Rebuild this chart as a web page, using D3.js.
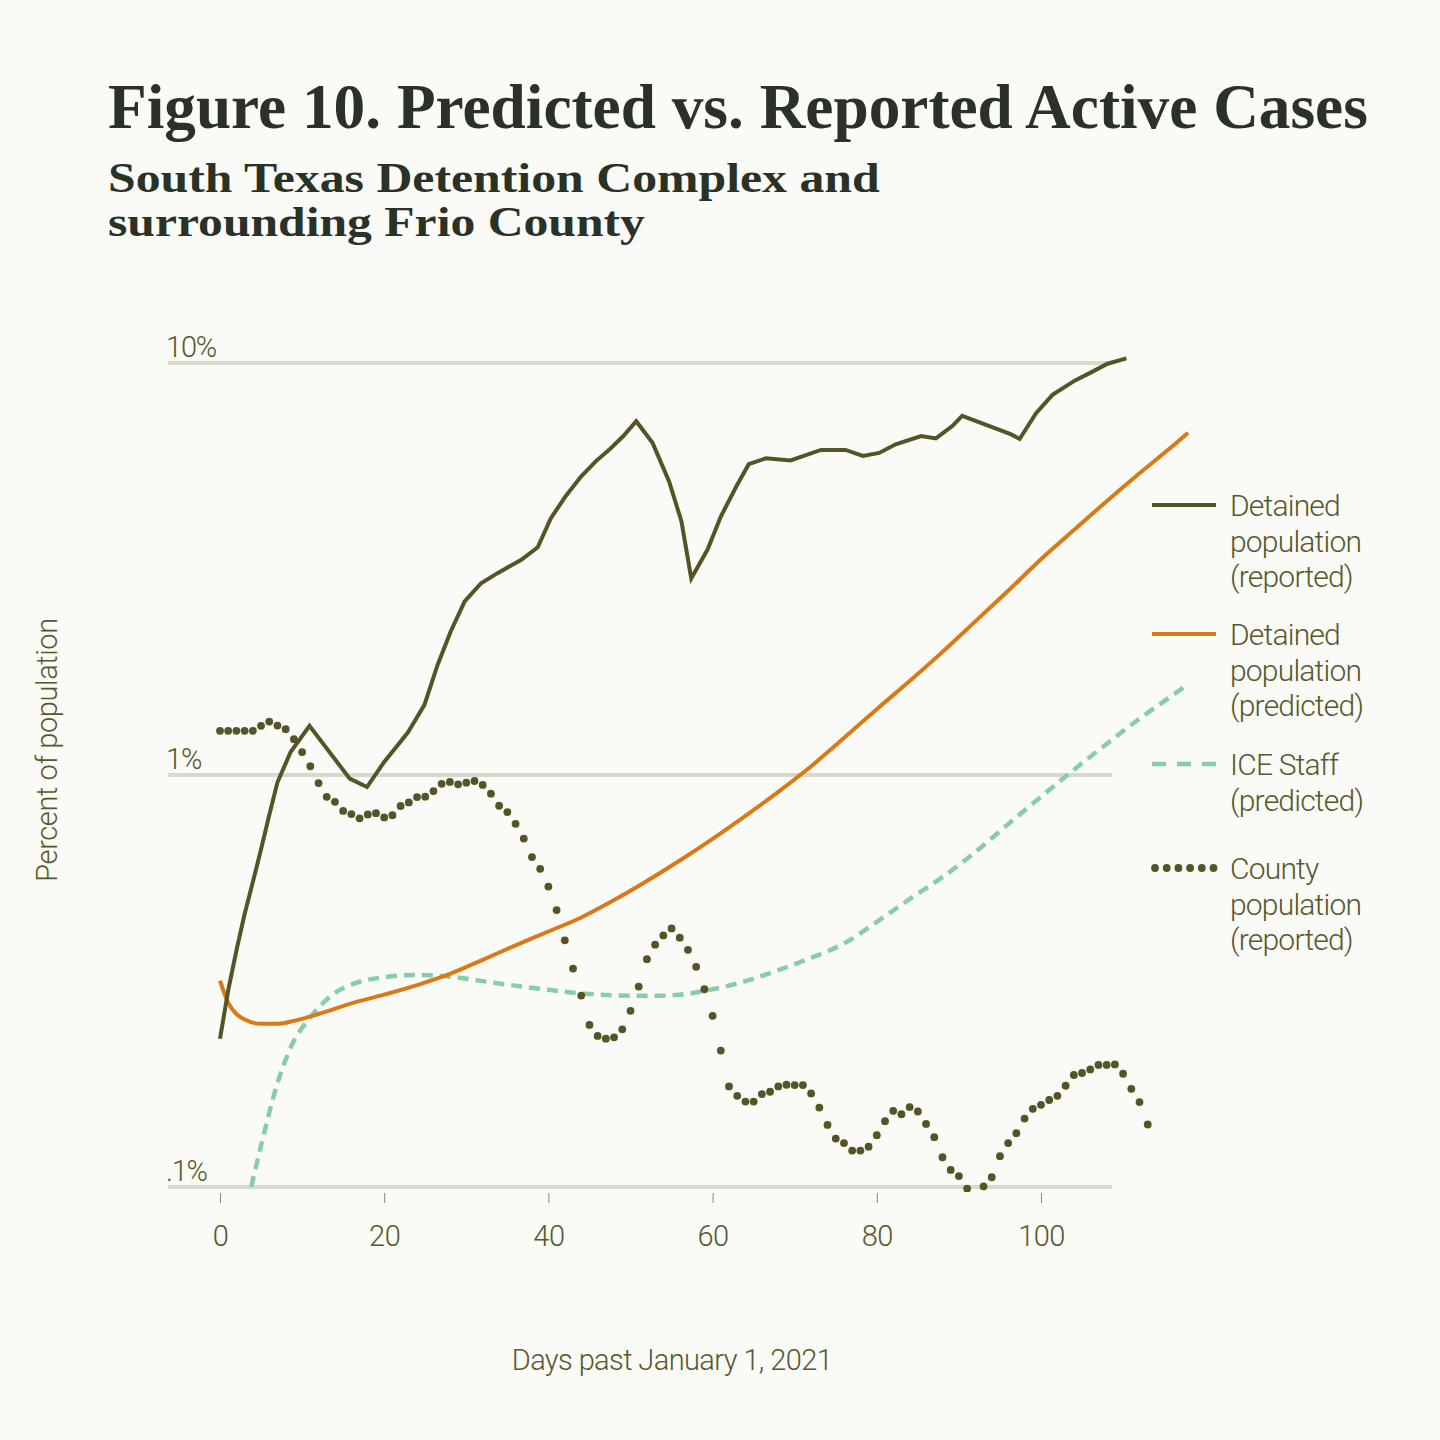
<!DOCTYPE html>
<html>
<head>
<meta charset="utf-8">
<script src="https://cdn.jsdelivr.net/npm/d3@7"></script>
<style>
  html, body { margin: 0; padding: 0; background: #fafaf6; }
  svg { display: block; }
</style>
</head>
<body>
<svg id="chart" width="1440" height="1440"></svg>
<script>
// ---------------- DATA ----------------
const titleText = "Figure 10. Predicted vs. Reported Active Cases";
const subtitleLines = ["South Texas Detention Complex and", "surrounding Frio County"];
const xTickValues = [0, 20, 40, 60, 80, 100];
const yTickValues = [10, 1, 0.1];
const yTickLabels = ["10%", "1%", ".1%"];
const xAxisTitle = "Days past January 1, 2021";
const yAxisTitle = "Percent of population";

// Detained population (reported) — day, percent
const detainedReportedDays = [0, 1, 2, 3, 4, 5, 6, 7, 8.6, 10.9, 15.8, 17.9, 20, 22.9, 24.9, 26.5, 28.1, 29.8, 31.8, 33.8, 36.7, 38.7, 40.3, 42.1, 44, 45.8, 47.6, 49.1, 50.7, 52.7, 54.7, 56.2, 57.4, 59.4, 61, 62.9, 64.4, 66.5, 69.5, 73.2, 76.2, 78.3, 80.3, 82.3, 85.4, 87.2, 89.2, 90.4, 96.3, 97.4, 99.4, 101.4, 104.1, 106.1, 108.1, 110.4];
const detainedReportedValues = [0.229, 0.30, 0.375, 0.46, 0.55, 0.66, 0.80, 0.96, 1.137, 1.316, 0.98, 0.935, 1.076, 1.27, 1.48, 1.85, 2.23, 2.64, 2.92, 3.09, 3.33, 3.57, 4.2, 4.75, 5.31, 5.78, 6.21, 6.64, 7.22, 6.39, 5.16, 4.13, 3.0, 3.53, 4.24, 5.02, 5.68, 5.87, 5.80, 6.15, 6.15, 5.95, 6.05, 6.35, 6.65, 6.56, 7.03, 7.44, 6.72, 6.54, 7.55, 8.37, 9.06, 9.49, 9.96, 10.26];

// Detained population (predicted)
const detainedPredictedDays = [0, 1, 2, 3, 5, 7, 9, 12, 16, 20, 24, 28, 32, 36, 40, 44, 48, 52, 56, 60, 64, 68, 72, 76, 80, 84, 88, 92, 96, 100, 104, 108, 112, 116, 117.9];
const detainedPredictedValues = [0.317, 0.28, 0.263, 0.255, 0.249, 0.249, 0.253, 0.263, 0.279, 0.293, 0.309, 0.329, 0.356, 0.386, 0.417, 0.451, 0.497, 0.553, 0.62, 0.70, 0.796, 0.91, 1.05, 1.23, 1.445, 1.69, 1.99, 2.36, 2.80, 3.34, 3.93, 4.62, 5.40, 6.28, 6.77];

// ICE Staff (predicted)
const iceStaffDays = [3.8, 5, 6.9, 8.7, 11, 13.8, 16.6, 20, 24, 28, 32, 36, 40, 44, 48, 52, 56, 60, 64, 68, 72, 76, 80, 84, 88, 92, 96, 100, 104, 108, 112, 116, 117.9];
const iceStaffValues = [0.1, 0.126, 0.176, 0.22, 0.258, 0.294, 0.313, 0.323, 0.327, 0.324, 0.316, 0.308, 0.301, 0.295, 0.292, 0.291, 0.293, 0.302, 0.316, 0.336, 0.36, 0.39, 0.44, 0.50, 0.565, 0.65, 0.76, 0.885, 1.03, 1.19, 1.37, 1.56, 1.66];

// County population (reported) — one value per day starting at day 0
const countyValues = [
  1.28, 1.28, 1.28, 1.28, 1.28, 1.316, 1.348, 1.318, 1.292, 1.222,
  1.137, 1.05, 0.956, 0.885, 0.861, 0.818, 0.804, 0.785, 0.802, 0.808,
  0.789, 0.799, 0.841, 0.858, 0.884, 0.886, 0.914, 0.952, 0.962, 0.949,
  0.958, 0.967, 0.946, 0.901, 0.842, 0.813, 0.761, 0.701, 0.632, 0.592,
  0.536, 0.47, 0.397, 0.339, 0.2915, 0.2474, 0.2326, 0.2291, 0.2308, 0.2414,
  0.2677, 0.3066, 0.3573, 0.3874, 0.408, 0.4243, 0.4028, 0.3765, 0.3423, 0.302,
  0.2602, 0.2143, 0.1754, 0.1665, 0.1612, 0.1612, 0.1681, 0.1703, 0.1754, 0.1771,
  0.1768, 0.1768, 0.1687, 0.1559, 0.1415, 0.1311, 0.1278, 0.1226, 0.1226, 0.1253,
  0.1336, 0.1445, 0.1531, 0.1502, 0.1563, 0.1525, 0.1423, 0.1321, 0.1181, 0.11,
  0.1063, 0.0991, 0.09, 0.1004, 0.1056, 0.1188, 0.1278, 0.1351, 0.1466, 0.1548,
  0.1583, 0.1626, 0.1665, 0.1761, 0.187, 0.1891, 0.1929, 0.1978, 0.1978, 0.1984,
  0.1883, 0.1731, 0.1607, 0.1418
];

const legendLabels = [
  ["Detained", "population", "(reported)"],
  ["Detained", "population", "(predicted)"],
  ["ICE Staff", "(predicted)"],
  ["County", "population", "(reported)"]
];

// ---------------- STYLE ----------------
const C = {
  bg: "#fafaf6",
  title: "#2a3227",
  text: "#57572c",
  olive: "#545427",
  orange: "#d97a17",
  green: "#88cdab",
  grid: "#d8d8cd",
  tick: "#8a8a70"
};
const sansFont = "Roboto, 'Liberation Sans', sans-serif";
const serifFont = "'Liberation Serif', 'DejaVu Serif', serif";

const svg = d3.select("#chart");
svg.append("rect").attr("width", 1440).attr("height", 1440).attr("fill", C.bg);

const x = d3.scaleLinear().domain([0, 100]).range([220, 1041]);
const y = d3.scaleLog().domain([0.1, 10]).range([1187, 363]);
const gridX0 = 168, gridX1 = 1112;

// ---------------- TITLES ----------------
function fitWidth(sel, target) {
  const node = sel.node();
  const fs = parseFloat(sel.attr("font-size"));
  const w = node.getComputedTextLength();
  sel.attr("font-size", (fs * target / w).toFixed(2));
}
function stretchTo(sel, x0, y0, target) {
  const w = sel.node().getBBox().width;
  sel.attr("transform", `translate(${x0},${y0}) scale(${(target / w).toFixed(4)},1)`);
}
const title = svg.append("text")
  .attr("x", 108).attr("y", 128)
  .attr("font-family", serifFont).attr("font-weight", 700)
  .attr("font-size", 56).attr("fill", C.title)
  .text(titleText);
fitWidth(title, 1260);

const sub1 = svg.append("text")
  .attr("x", 0).attr("y", 0)
  .attr("font-family", serifFont).attr("font-weight", 700)
  .attr("font-size", 42).attr("fill", C.title)
  .text(subtitleLines[0]);
stretchTo(sub1, 108, 192, 772);
const sub2 = svg.append("text")
  .attr("x", 0).attr("y", 0)
  .attr("font-family", serifFont).attr("font-weight", 700)
  .attr("font-size", 42).attr("fill", C.title)
  .text(subtitleLines[1]);
stretchTo(sub2, 108, 236, 537);

// ---------------- GRID + Y LABELS ----------------
const gridG = svg.append("g");
gridG.selectAll("line").data(yTickValues).join("line")
  .attr("x1", gridX0).attr("x2", gridX1)
  .attr("y1", d => y(d)).attr("y2", d => y(d))
  .attr("stroke", C.grid).attr("stroke-width", 4);
gridG.selectAll("text").data(yTickValues).join("text")
  .attr("x", 166).attr("y", d => y(d) - 6)
  .attr("font-family", sansFont).attr("font-weight", 300)
  .attr("font-size", 29).attr("letter-spacing", "-1.2px")
  .attr("fill", C.text)
  .text((d, i) => yTickLabels[i]);

// ---------------- X AXIS ----------------
const xAxis = d3.axisBottom(x).tickValues(xTickValues).tickSize(10).tickPadding(22).tickFormat(d3.format("d"));
const xg = svg.append("g").attr("transform", `translate(0, ${y(0.1) + 6})`).call(xAxis);
xg.select(".domain").remove();
xg.selectAll(".tick line").attr("stroke", C.tick).attr("stroke-width", 1);
xg.selectAll(".tick text")
  .attr("font-family", sansFont).attr("font-weight", 300)
  .attr("font-size", 29).attr("letter-spacing", "-0.5px")
  .attr("fill", C.text);

svg.append("text")
  .attr("x", 672).attr("y", 1370).attr("text-anchor", "middle")
  .attr("font-family", sansFont).attr("font-weight", 300)
  .attr("font-size", 29).attr("letter-spacing", "-0.6px")
  .attr("fill", C.text).text(xAxisTitle);

svg.append("text")
  .attr("transform", "translate(57, 750) rotate(-90)")
  .attr("text-anchor", "middle")
  .attr("font-family", sansFont).attr("font-weight", 300)
  .attr("font-size", 29).attr("letter-spacing", "-0.4px")
  .attr("fill", C.text).text(yAxisTitle);

// ---------------- SERIES ----------------
svg.append("clipPath").attr("id", "plotclip")
  .append("rect").attr("x", 150).attr("y", 330).attr("width", 1100).attr("height", y(0.1) + 5 - 330);
const plot = svg.append("g").attr("clip-path", "url(#plotclip)");

const zip = (ds, vs) => ds.map((d, i) => ({ d, v: vs[i] }));

const lineLinear = d3.line().x(p => x(p.d)).y(p => y(p.v)).curve(d3.curveLinear);
const lineSmooth = d3.line().x(p => x(p.d)).y(p => y(p.v)).curve(d3.curveMonotoneX);

// ICE staff (dashed)
plot.append("path")
  .datum(zip(iceStaffDays, iceStaffValues))
  .attr("d", lineSmooth)
  .attr("fill", "none").attr("stroke", C.green)
  .attr("stroke-width", 4.5).attr("stroke-dasharray", "11,7");

// Detained predicted (orange)
plot.append("path")
  .datum(zip(detainedPredictedDays, detainedPredictedValues))
  .attr("d", lineSmooth)
  .attr("fill", "none").attr("stroke", C.orange)
  .attr("stroke-width", 4).attr("stroke-linejoin", "round");

// County (dots)
plot.selectAll("circle.county")
  .data(countyValues.map((v, i) => ({ d: i, v })))
  .join("circle").attr("class", "county")
  .attr("cx", p => x(p.d)).attr("cy", p => y(p.v))
  .attr("r", 3.9).attr("fill", C.olive);

// Detained reported (olive)
plot.append("path")
  .datum(zip(detainedReportedDays, detainedReportedValues))
  .attr("d", lineLinear)
  .attr("fill", "none").attr("stroke", C.olive)
  .attr("stroke-width", 4).attr("stroke-linejoin", "miter");

// ---------------- LEGEND ----------------
const legendY = [505, 634, 764, 868];
const lg = svg.append("g");
legendLabels.forEach((lines, i) => {
  const ly = legendY[i];
  if (i === 0 || i === 1) {
    lg.append("line").attr("x1", 1152).attr("x2", 1216).attr("y1", ly).attr("y2", ly)
      .attr("stroke", i === 0 ? C.olive : C.orange).attr("stroke-width", 4);
  } else if (i === 2) {
    lg.append("line").attr("x1", 1152).attr("x2", 1216).attr("y1", ly).attr("y2", ly)
      .attr("stroke", C.green).attr("stroke-width", 4.5).attr("stroke-dasharray", "14,11");
  } else {
    lg.selectAll("circle.leg").data(d3.range(6)).join("circle").attr("class", "leg")
      .attr("cx", k => 1155 + k * 11.7).attr("cy", ly).attr("r", 3.9).attr("fill", C.olive);
  }
  const t = lg.append("text")
    .attr("font-family", sansFont).attr("font-weight", 300)
    .attr("font-size", 30).attr("letter-spacing", "-0.8px")
    .attr("fill", C.text);
  lines.forEach((s, k) => {
    t.append("tspan").attr("x", 1230).attr("y", ly + 11 + k * 35.5).text(s);
  });
});
</script>
</body>
</html>
